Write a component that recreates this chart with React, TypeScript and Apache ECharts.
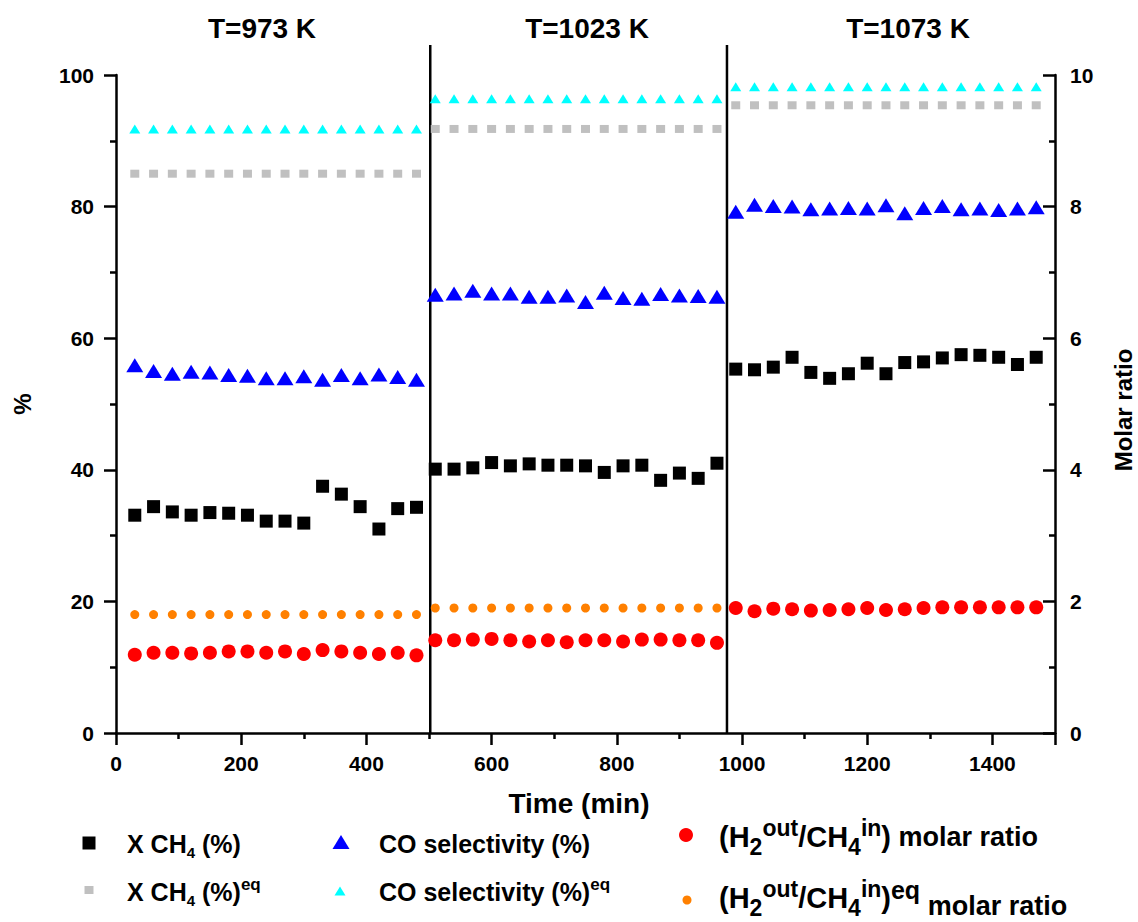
import React, { useEffect, useRef } from 'react';
import * as echarts from 'echarts';

const FONT = '"Liberation Sans", Arial, Helvetica, sans-serif';

// Sampling times (min) for each temperature stage
const timesT973 = [30, 60, 90, 120, 150, 180, 210, 240, 270, 300, 330, 360, 390, 420, 450, 480];
const timesT1023 = [510, 540, 570, 600, 630, 660, 690, 720, 750, 780, 810, 840, 870, 900, 930, 960];
const timesT1073 = [990, 1020, 1050, 1080, 1110, 1140, 1170, 1200, 1230, 1260, 1290, 1320, 1350, 1380, 1410, 1440, 1470];

// CH4 conversion (%)
const xch4T973 = [33.1, 34.4, 33.6, 33.1, 33.5, 33.4, 33.1, 32.2, 32.2, 31.9, 37.5, 36.3, 34.4, 31.0, 34.1, 34.3];
const xch4T1023 = [40.1, 40.1, 40.3, 41.1, 40.6, 40.9, 40.7, 40.7, 40.6, 39.6, 40.6, 40.7, 38.4, 39.5, 38.7, 41.0];
const xch4T1073 = [55.3, 55.2, 55.6, 57.1, 54.8, 53.9, 54.6, 56.2, 54.6, 56.3, 56.4, 57.0, 57.5, 57.4, 57.1, 56.0, 57.1];

// CO selectivity (%)
const coSelT973 = [55.9, 55.0, 54.6, 54.9, 54.8, 54.4, 54.3, 53.9, 53.9, 54.2, 53.7, 54.4, 53.9, 54.5, 54.1, 53.7];
const coSelT1023 = [66.6, 66.8, 67.2, 66.8, 66.8, 66.3, 66.3, 66.5, 65.5, 66.9, 66.1, 66.0, 66.7, 66.5, 66.4, 66.3];
const coSelT1073 = [79.2, 80.3, 80.1, 80.0, 79.6, 79.7, 79.8, 79.7, 80.2, 79.0, 79.8, 80.1, 79.6, 79.7, 79.5, 79.7, 79.9];

// H2(out)/CH4(in) molar ratio
const ratioT973 = [1.19, 1.22, 1.22, 1.21, 1.22, 1.24, 1.24, 1.22, 1.24, 1.20, 1.26, 1.24, 1.22, 1.20, 1.22, 1.18];
const ratioT1023 = [1.41, 1.41, 1.42, 1.43, 1.41, 1.39, 1.41, 1.38, 1.41, 1.41, 1.39, 1.42, 1.42, 1.41, 1.41, 1.37];
const ratioT1073 = [1.90, 1.85, 1.89, 1.88, 1.86, 1.87, 1.88, 1.90, 1.87, 1.88, 1.90, 1.91, 1.91, 1.91, 1.91, 1.91, 1.91];

// Equilibrium values per stage (T=973, 1023, 1073 K)
const xch4Eq = [85.0, 91.8, 95.4];
const coSelEq = [91.8, 96.4, 98.2];
const ratioEq = [1.8, 1.9];

const stageTimes = [timesT973, timesT1023, timesT1073];
const stageLabels = ['T=973 K', 'T=1023 K', 'T=1073 K'];
const stageBreaks = [502, 976];

const pairs = (ts: number[], vs: number[]) => ts.map((t, i) => [t, vs[i]]);
const eqPairs = (eq: number[]) =>
  eq.flatMap((v, s) => stageTimes[s].map((t) => [t, v]));

const axisLineStyle = { color: '#000', width: 2.5 };
const tickStyle = { color: '#000', width: 2.5 };
const labelStyle = {
  color: '#000',
  fontSize: 21,
  fontWeight: 'bold' as const,
  fontFamily: FONT,
  formatter: (v: number) => String(v),
};

const option: any = {
  animation: false,
  backgroundColor: '#fff',
  grid: { left: 116, right: 83, top: 75, bottom: 189, containLabel: false },
  xAxis: {
    type: 'value',
    min: 0,
    max: 1500,
    interval: 200,
    axisLine: { lineStyle: axisLineStyle },
    axisTick: { length: 12, lineStyle: tickStyle },
    minorTick: { show: true, splitNumber: 2, length: 6, lineStyle: tickStyle },
    splitLine: { show: false },
    axisLabel: { ...labelStyle, margin: 20, showMaxLabel: false },
  },
  yAxis: [
    {
      type: 'value',
      position: 'left',
      min: 0,
      max: 100,
      interval: 20,
      axisLine: { show: true, lineStyle: axisLineStyle },
      axisTick: { show: true, length: 12, lineStyle: tickStyle },
      minorTick: { show: true, splitNumber: 2, length: 6, lineStyle: tickStyle },
      splitLine: { show: false },
      axisLabel: { ...labelStyle, margin: 22 },
    },
    {
      type: 'value',
      position: 'right',
      min: 0,
      max: 10,
      interval: 2,
      axisLine: { show: true, lineStyle: axisLineStyle },
      axisTick: { show: true, inside: true, length: 12, lineStyle: tickStyle },
      minorTick: { show: true, splitNumber: 2, length: 6, lineStyle: tickStyle },
      splitLine: { show: false },
      axisLabel: { ...labelStyle, margin: 15 },
    },
  ],
  series: [
    {
      name: 'X CH4 (%)eq',
      type: 'scatter',
      symbol: 'rect',
      symbolSize: [9, 8],
      itemStyle: { color: '#C0C0C0', opacity: 1 },
      data: eqPairs(xch4Eq),
    },
    {
      name: 'CO selectivity (%)eq',
      type: 'scatter',
      symbol: 'triangle',
      symbolSize: [11, 9],
      itemStyle: { color: '#00FFFF', opacity: 1 },
      data: eqPairs(coSelEq),
    },
    {
      name: '(H2out/CH4in)eq molar ratio',
      type: 'scatter',
      yAxisIndex: 1,
      symbol: 'circle',
      symbolSize: 9,
      itemStyle: { color: '#FF8000', opacity: 1 },
      data: eqPairs(ratioEq),
    },
    {
      name: 'X CH4 (%)',
      type: 'scatter',
      symbol: 'rect',
      symbolSize: 13,
      itemStyle: { color: '#000', opacity: 1 },
      data: [...pairs(timesT973, xch4T973), ...pairs(timesT1023, xch4T1023), ...pairs(timesT1073, xch4T1073)],
    },
    {
      name: 'CO selectivity (%)',
      type: 'scatter',
      symbol: 'triangle',
      symbolSize: [17, 14],
      itemStyle: { color: '#0000FF', opacity: 1 },
      data: [...pairs(timesT973, coSelT973), ...pairs(timesT1023, coSelT1023), ...pairs(timesT1073, coSelT1073)],
    },
    {
      name: '(H2out/CH4in) molar ratio',
      type: 'scatter',
      yAxisIndex: 1,
      symbol: 'circle',
      symbolSize: 14,
      itemStyle: { color: '#FF0000', opacity: 1 },
      data: [...pairs(timesT973, ratioT973), ...pairs(timesT1023, ratioT1023), ...pairs(timesT1073, ratioT1073)],
    },
  ],
};

// Rich-text styles for the legend (sub/superscripts)
const tok = (fontSize: number, lineHeight: number, verticalAlign: string) => ({
  fontSize,
  lineHeight,
  verticalAlign,
  fontWeight: 'bold',
  fontFamily: FONT,
  color: '#000',
});

const richLeft = {
  m: tok(25, 32, 'middle'),
  s: tok(15, 7, 'bottom'),
  p: tok(17, 11, 'top'),
};

const richRight = {
  M: tok(29, 42, 'middle'),
  S: tok(23, 20, 'bottom'),
  P: tok(23, 16, 'top'),
  r: tok(27, 42, 'middle'),
  E: tok(25, 8, 'top'),
  R: tok(27, 32, 'bottom'),
};

const legendText = (x: number, y: number, text: string, rich: any) => ({
  type: 'text',
  x,
  y,
  silent: true,
  style: { text, rich, align: 'left', verticalAlign: 'middle', fill: '#000', fontFamily: FONT, fontWeight: 'bold' },
});

const plainText = (x: number, y: number, text: string, fontSize: number, rotation = 0) => ({
  type: 'text',
  x,
  y,
  rotation,
  silent: true,
  style: {
    text,
    align: 'center',
    verticalAlign: 'middle',
    fill: '#000',
    fontSize,
    fontWeight: 'bold',
    fontFamily: FONT,
  },
});

const triangle = (cx: number, cy: number, w: number, h: number, color: string) => ({
  type: 'polygon',
  silent: true,
  shape: { points: [[cx, cy - h / 2], [cx + w / 2, cy + h / 2], [cx - w / 2, cy + h / 2]] },
  style: { fill: color },
});

const staticGraphics: any[] = [
  // stage titles
  plainText(262, 28, stageLabels[0], 28),
  plainText(587, 28, stageLabels[1], 28),
  plainText(908, 28, stageLabels[2], 28),
  // axis names
  plainText(22, 404, '%', 24, Math.PI / 2),
  plainText(1123, 410, 'Molar ratio', 24, Math.PI / 2),
  plainText(579, 803, 'Time (min)', 28),
  // legend markers
  { type: 'rect', silent: true, shape: { x: 82.5, y: 836.5, width: 13, height: 13 }, style: { fill: '#000' } },
  { type: 'rect', silent: true, shape: { x: 84.5, y: 886, width: 9, height: 8 }, style: { fill: '#C0C0C0' } },
  triangle(341, 842, 17, 14, '#0000FF'),
  triangle(340, 891, 11, 9, '#00FFFF'),
  { type: 'circle', silent: true, shape: { cx: 686, cy: 835, r: 7 }, style: { fill: '#FF0000' } },
  { type: 'circle', silent: true, shape: { cx: 687, cy: 900, r: 4.5 }, style: { fill: '#FF8000' } },
  // legend labels
  legendText(127, 844, '{m|X CH}{s|4}{m| (%)}', richLeft),
  legendText(127, 892, '{m|X CH}{s|4}{m| (%)}{p|eq}', richLeft),
  legendText(379, 844, '{m|CO selectivity (%)}', richLeft),
  legendText(379, 892, '{m|CO selectivity (%)}{p|eq}', richLeft),
  legendText(719, 837, '{M|(H}{S|2}{P|out}{M|/CH}{S|4}{P|in}{M|)}{r| molar ratio}', richRight),
  legendText(719, 898, '{M|(H}{S|2}{P|out}{M|/CH}{S|4}{P|in}{M|)}{E|eq}{R| molar ratio}', richRight),
];

export default function App() {
  const ref = useRef<HTMLDivElement>(null);

  useEffect(() => {
    if (!ref.current) return;
    const chart = echarts.init(ref.current, null, { renderer: 'svg' });
    chart.setOption(option);

    // vertical separators between temperature stages
    const yBottom = chart.convertToPixel({ yAxisIndex: 0 }, 0) as number;
    const separators = stageBreaks.map((t) => {
      const x = chart.convertToPixel({ xAxisIndex: 0 }, t) as number;
      return {
        type: 'line',
        silent: true,
        shape: { x1: x, y1: 45, x2: x, y2: yBottom },
        style: { stroke: '#000', lineWidth: 2.5 },
      };
    });

    chart.setOption({ graphic: [...staticGraphics, ...separators] });
    return () => chart.dispose();
  }, []);

  return (
    <div
      ref={ref}
      style={{ position: 'fixed', left: 0, top: 0, width: 1138, height: 922, background: '#fff' }}
    />
  );
}
